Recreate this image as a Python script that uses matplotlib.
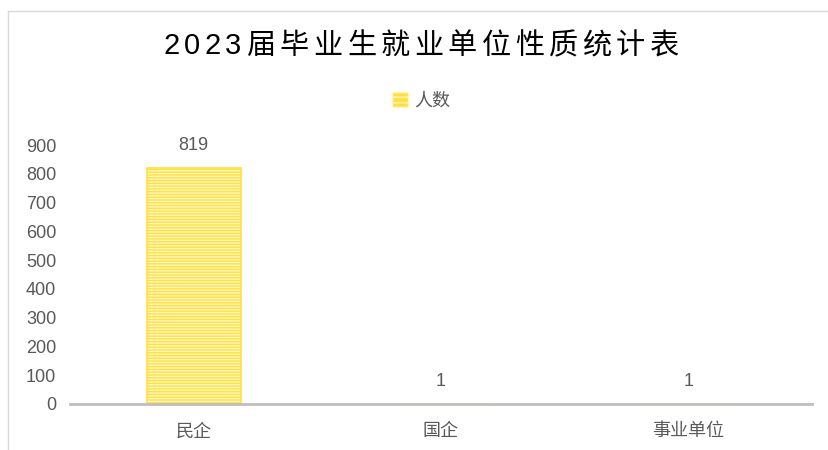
import matplotlib.pyplot as plt
from matplotlib.lines import Line2D
from matplotlib.patches import Patch

plt.rcParams['font.family'] = ['Liberation Sans', 'Noto Sans CJK SC', 'DejaVu Sans']
plt.rcParams['hatch.linewidth'] = 1.0

categories = ['民企', '国企', '事业单位']
counts = [819, 1, 1]
series_name = '人数'
title = '2023届毕业生就业单位性质统计表'

yellow = '#FFE143'
gray_text = '#595959'

fig = plt.figure(figsize=(8.29, 4.5), dpi=100)
ax = fig.add_axes([70 / 829, 1 - 404 / 450, 742 / 829, 259 / 450])

x = range(len(categories))
# fill with white horizontal stripes, then yellow outline on top
ax.bar(x, counts, width=0.38, color=yellow, edgecolor='#FFF6C0', hatch='------', linewidth=0)
ax.bar(x, counts, width=0.38, fill=False, edgecolor=yellow, linewidth=1.2)

for xi, v in zip(x, counts):
    ax.annotate(str(v), (xi, v), xytext=(0, 10), textcoords='offset points',
                ha='center', va='bottom', fontsize=13, color=gray_text)

ax.set_xlim(-0.5, len(categories) - 0.5)
ax.set_ylim(0, 900)
ax.set_yticks(range(0, 901, 100))
ax.set_xticks(list(x))
ax.set_xticklabels(categories)
ax.tick_params(axis='both', length=0, labelsize=13, labelcolor=gray_text)
ax.tick_params(axis='x', pad=14)
ax.tick_params(axis='y', pad=10)
for side in ['top', 'right', 'left']:
    ax.spines[side].set_visible(False)
ax.spines['bottom'].set_color('#BFBFBF')
ax.spines['bottom'].set_linewidth(2)

# title with letter spacing: place characters one by one
renderer = fig.canvas.get_renderer()
gap = 4.5
parts = []
for ch in title:
    t = fig.text(0, 1 - 46 / 450, ch, ha='left', va='center', fontsize=21, color='black')
    parts.append((t, t.get_window_extent(renderer).width))
total = sum(w for _, w in parts) + gap * (len(parts) - 1)
xpos = 421 - total / 2
for t, w in parts:
    t.set_x(xpos / 829)
    xpos += w + gap

leg = fig.legend(handles=[Patch(facecolor=yellow, edgecolor='#FFF6C0', hatch='---')],
                 labels=[series_name], loc='center', bbox_to_anchor=(421 / 829, 1 - 101 / 450),
                 frameon=False, fontsize=13, handlelength=0.85, handleheight=0.85, handletextpad=0.35)
for t in leg.get_texts():
    t.set_color(gray_text)

# chart frame edge visible at top and left
fig.add_artist(Line2D([8 / 829, 8 / 829], [0, 1 - 11 / 450], color='#D9D9D9', linewidth=1))
fig.add_artist(Line2D([8 / 829, 1], [1 - 11 / 450, 1 - 11 / 450], color='#D9D9D9', linewidth=1))

fig.savefig('out.png', dpi=100)
